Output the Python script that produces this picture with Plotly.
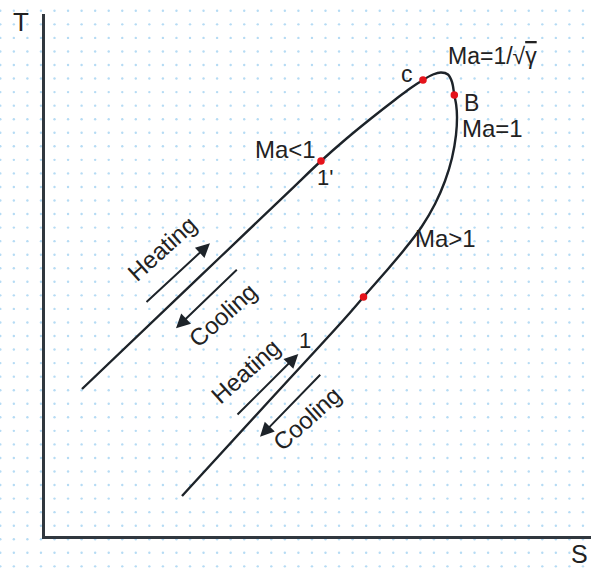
import numpy as np
import plotly.graph_objects as go

# Rayleigh line on the T-s diagram (entropy S on x, temperature T on y)
curve_s = [37, 155, 245, 276, 301, 326, 351, 365, 378, 388, 396, 403, 407,
           409.3, 411.2, 412, 411, 407, 400, 390, 376.5, 359, 339.5, 318.5,
           298.5, 225, 137]
curve_t = [147, 259.6, 345.4, 375, 397, 417.5, 437, 447.5, 456, 461.5, 463.5,
           461.5, 454, 441, 431, 419, 401, 378, 355, 332, 309, 286, 263, 239,
           216, 136, 40]

# Marked states on the line: 1', c, B, 1
state_names = ["1'", "c", "B", "1"]
state_s = [276, 378, 409.3, 318.5]
state_t = [375, 456, 441, 239]

# Text labels (S, T, text, font size)
labels = [
    (447, 480, "Ma=1/√<span style='text-decoration:overline'>γ</span>", 23),
    (362, 462, "c", 23),
    (426, 433, "B", 23),
    (447.5, 407.5, "Ma=1", 24),
    (240, 386.5, "Ma<1", 24),
    (280, 358, "1'", 22),
    (400, 297, "Ma>1", 24),
    (260, 196, "1", 22),
]

# Process arrows along each branch: (label, label S, label T, tail S, tail T, head S, head T)
process_arrows = [
    ("Heating", 117, 287, 100, 232.7, 165, 292.7),
    ("Cooling", 177, 221, 193.3, 267.7, 131, 207.7),
    ("Heating", 200, 165, 191, 120, 253.3, 182),
    ("Cooling", 261.7, 118, 276.7, 162.7, 215, 99.3),
]

W, H = 591, 570
FONT = "Liberation Sans, Arial, sans-serif"
INK = "#1d2329"

fig = go.Figure()

# dotted background grid over the whole canvas
gx = 0.3 + 13.55 * np.arange(0, 44)
gy = 10.8 + 13.55 * np.arange(0, 42)
GX, GY = np.meshgrid(gx, gy)
fig.add_trace(go.Scatter(
    x=GX.ravel(), y=(H - GY).ravel(), mode="markers",
    marker=dict(size=2.4, color="#b5dbf4", line=dict(width=0)),
    xaxis="x", yaxis="y", hoverinfo="skip",
))

fig.add_trace(go.Scatter(
    x=curve_s, y=curve_t, mode="lines",
    line=dict(color=INK, width=2.4, shape="spline", smoothing=1.0),
    xaxis="x2", yaxis="y2", hoverinfo="skip",
))

fig.add_trace(go.Scatter(
    x=state_s, y=state_t, mode="markers", text=state_names,
    marker=dict(size=7.5, color="#e5131b", line=dict(width=0)),
    xaxis="x2", yaxis="y2", hoverinfo="text",
))

ann = []
for s, t, txt, fs in labels:
    ann.append(dict(x=s, y=t, xref="x2", yref="y2", text=txt, showarrow=False,
                    xanchor="center", yanchor="middle",
                    font=dict(family=FONT, size=fs, color="#222")))

for txt, ls, lt, s0, t0, s1, t1 in process_arrows:
    ann.append(dict(x=ls, y=lt, xref="x2", yref="y2", text=txt, showarrow=False,
                    textangle=-42, xanchor="center", yanchor="middle",
                    font=dict(family=FONT, size=24, color="#222")))
    ann.append(dict(x=s1, y=t1, ax=s0, ay=t0, xref="x2", yref="y2",
                    axref="x2", ayref="y2", text="", showarrow=True,
                    arrowhead=2, arrowsize=1.4, arrowwidth=2, arrowcolor=INK,
                    standoff=0, startstandoff=0))

# axis names
ann.append(dict(x=21 / W, y=1 - 22 / H, xref="paper", yref="paper", text="T",
                showarrow=False, xanchor="center", yanchor="middle",
                font=dict(family=FONT, size=26, color="#222")))
ann.append(dict(x=589 / W, y=1 / H, xref="paper", yref="paper", text="S",
                showarrow=False, xanchor="right", yanchor="bottom", borderpad=0,
                font=dict(family=FONT, size=25, color="#222")))

hidden = dict(visible=False, showgrid=False, zeroline=False, fixedrange=True)
data_axis = dict(showline=True, linecolor="#30373e", linewidth=3, ticks="",
                 showticklabels=False, showgrid=False, zeroline=False,
                 fixedrange=True)

fig.update_layout(
    width=W, height=H,
    margin=dict(l=0, r=0, t=0, b=0),
    paper_bgcolor="white", plot_bgcolor="rgba(0,0,0,0)",
    showlegend=False,
    xaxis=dict(domain=[0, 1], range=[0, W], **hidden),
    yaxis=dict(domain=[0, 1], range=[0, H], **hidden),
    xaxis2=dict(domain=[45 / W, 1], range=[0, 546], anchor="y2", **data_axis),
    yaxis2=dict(domain=[(H - 536) / H, 1 - 14 / H], range=[0, 522], anchor="x2",
                **data_axis),
    annotations=ann,
)

fig.write_html("out.html")
